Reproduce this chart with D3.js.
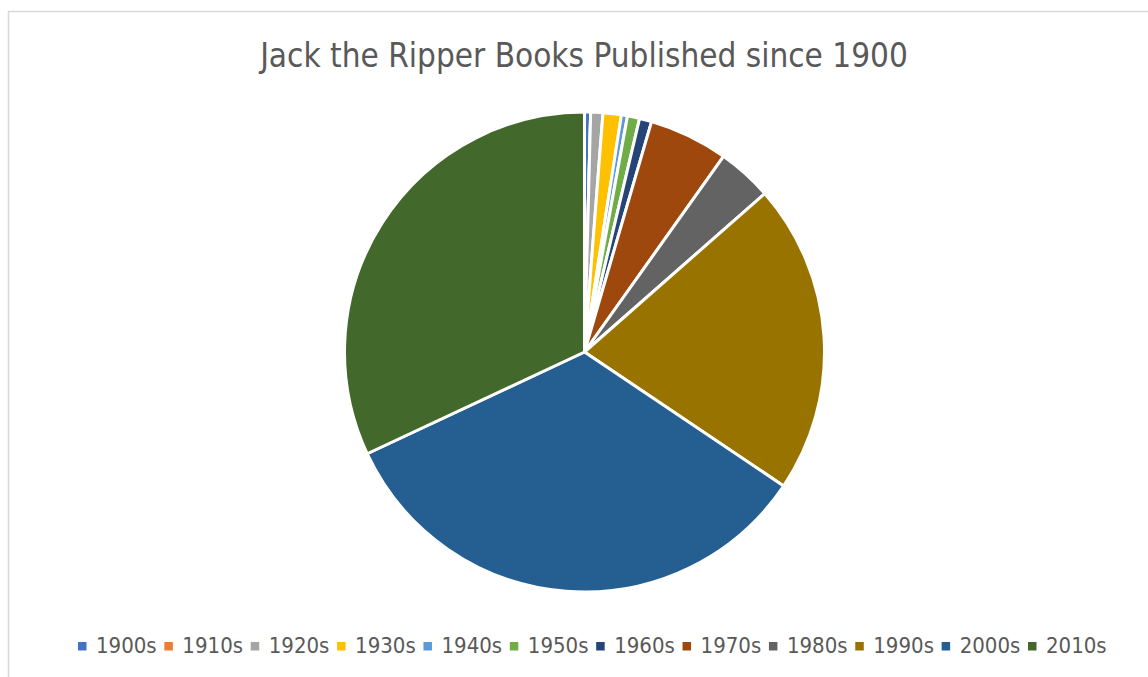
<!DOCTYPE html>
<html>
<head>
<meta charset="utf-8">
<script src="https://cdn.jsdelivr.net/npm/d3@7"></script>
<style>
  body { margin: 0; background: #fff; }
  svg { display: block; }
</style>
</head>
<body>
<svg id="chart" width="1148" height="677"></svg>
<script>
// decades and number of books
const decades = ['1900s', '1910s', '1920s', '1930s', '1940s', '1950s',
  '1960s', '1970s', '1980s', '1990s', '2000s', '2010s'];
const books = [1, 0, 2, 3, 1, 2, 2, 13, 9, 51, 82, 78];
const colors = ['#4472C4', '#ED7D31', '#A5A5A5', '#FFC000', '#5B9BD5', '#70AD47',
  '#264478', '#9E480E', '#636363', '#997300', '#255E91', '#43682B'];

const data = decades.map((d, i) => ({ decade: d, value: books[i] }));

const svg = d3.select('#chart');
const fontFam = '"Liberation Sans Narrow", "DejaVu Sans Condensed", sans-serif';

// chart area border (runs off the right and bottom of the window)
svg.append('rect')
  .attr('x', 8.5).attr('y', 11.5)
  .attr('width', 1200).attr('height', 700)
  .attr('fill', 'none')
  .attr('stroke', '#D9D9D9')
  .attr('stroke-width', 1.5);

// title
svg.append('text')
  .attr('x', 584)
  .attr('y', 67)
  .attr('text-anchor', 'middle')
  .attr('fill', '#595959')
  .style('font-family', fontFam)
  .style('font-size', '33px')
  .text('Jack the Ripper Books Published since 1900');

// pie
const cx = 584.5, cy = 352, radius = 240;
const color = d3.scaleOrdinal().domain(decades).range(colors);

const pie = d3.pie()
  .value(d => d.value)
  .sort(null);

const arc = d3.arc()
  .innerRadius(0)
  .outerRadius(radius);

const g = svg.append('g')
  .attr('transform', `translate(${cx},${cy})`);

g.selectAll('path')
  .data(pie(data))
  .join('path')
  .attr('d', arc)
  .attr('fill', d => color(d.data.decade))
  .attr('stroke', '#fff')
  .attr('stroke-width', 3)
  .attr('stroke-linejoin', 'round');

// legend
const legendX = d3.scalePoint()
  .domain(decades)
  .range([78, 1028]);

const legend = svg.append('g')
  .selectAll('g')
  .data(decades)
  .join('g')
  .attr('transform', d => `translate(${legendX(d)},0)`);

legend.append('rect')
  .attr('x', 0).attr('y', 642)
  .attr('width', 8.5).attr('height', 8.5)
  .attr('fill', d => color(d));

legend.append('text')
  .attr('x', 18)
  .attr('y', 653)
  .attr('fill', '#595959')
  .style('font-family', fontFam)
  .style('font-size', '22px')
  .text(d => d);
</script>
</body>
</html>
